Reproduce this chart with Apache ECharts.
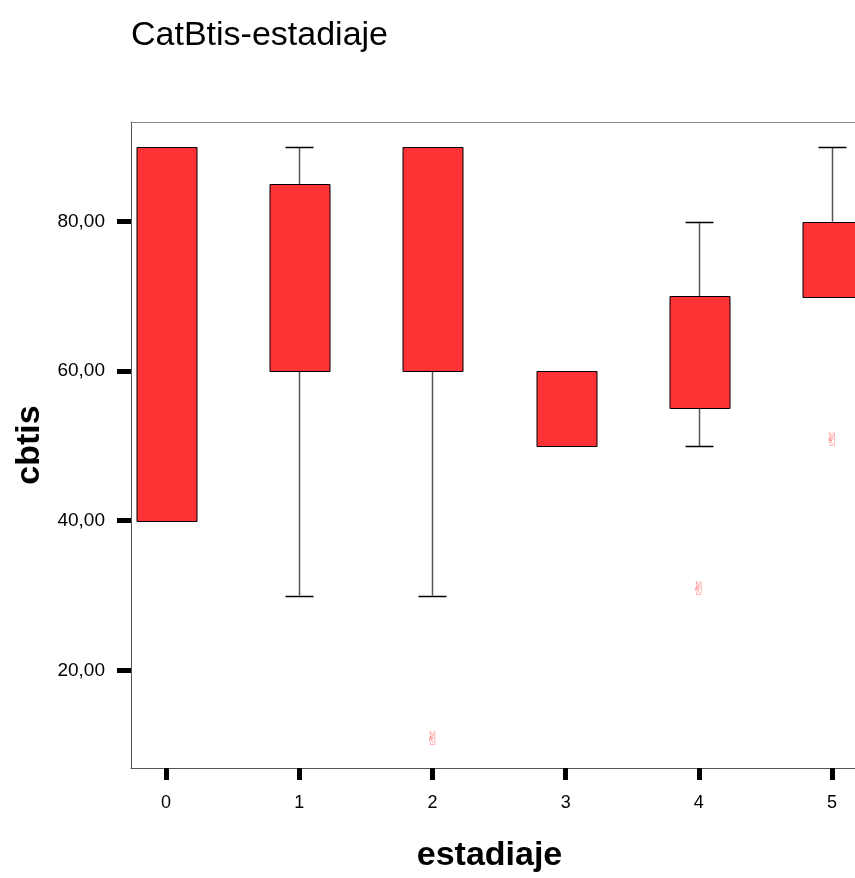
<!DOCTYPE html>
<html><head><meta charset="utf-8">
<script src="https://cdn.jsdelivr.net/npm/echarts@6/dist/echarts.min.js"></script>
<style>html,body{margin:0;padding:0;background:#fff}#c{width:855px;height:878px}</style>
</head><body><div id="c"></div>
<script>
const categories = [0, 1, 2, 3, 4, 5];
const whiskerLow  = [40, 30, 30, 50, 50, 70];
const q1          = [40, 60, 60, 50, 55, 70];
const q3          = [90, 85, 90, 60, 70, 80];
const whiskerHigh = [90, 90, 90, 60, 80, 90];
const outliers = [[2, 10], [4, 30], [5, 50]];
const yTicks = [20, 40, 60, 80];

const boxData = categories.map((c, i) => [c, whiskerLow[i], q1[i], q3[i], whiskerHigh[i]]);

const chart = echarts.init(document.getElementById('c'));
const FONT = 'Liberation Sans, Arial, sans-serif';
const XMIN = -0.263, XMAX = 5.172;
chart.setOption({
  animation: false,
  title: { text: 'CatBtis-estadiaje', left: 126, top: 14,
    textStyle: { fontFamily: FONT, fontSize: 34, fontWeight: 'normal', color: '#000' } },
  grid: { left: 131, top: 122, right: 0, bottom: 108, show: false },
  xAxis: [{
    type: 'value', min: XMIN, max: XMAX,
    name: 'estadiaje', nameLocation: 'middle', nameGap: 71,
    nameTextStyle: { fontFamily: FONT, fontSize: 34, fontWeight: 'bold', color: '#000', padding: [0, 7, 0, 0] },
    axisLine: { show: true, onZero: false, lineStyle: { color: '#555', width: 1 } },
    splitLine: { show: false },
    axisTick: { show: true, customValues: categories, length: 12, lineStyle: { color: '#000', width: 5 } },
    axisLabel: { customValues: categories, fontFamily: FONT, fontSize: 18, color: '#000', margin: 26,
      formatter: v => String(Math.round(v)) }
  }, {
    type: 'value', position: 'top', min: XMIN, max: XMAX,
    axisLine: { show: true, onZero: false, lineStyle: { color: '#888', width: 1 } },
    axisTick: { show: false }, axisLabel: { show: false }, splitLine: { show: false }
  }],
  yAxis: {
    type: 'value', min: 6.93, max: 93.33,
    name: 'cbtis', nameLocation: 'middle', nameGap: 84,
    nameTextStyle: { fontFamily: FONT, fontSize: 34, fontWeight: 'bold', color: '#000' },
    axisLine: { show: true, onZero: false, lineStyle: { color: '#555', width: 1 } },
    splitLine: { show: false },
    axisTick: { show: true, customValues: yTicks, length: 14, lineStyle: { color: '#000', width: 5 } },
    axisLabel: { customValues: yTicks, fontFamily: FONT, fontSize: 19, color: '#000', margin: 26,
      formatter: v => v.toFixed(2).replace('.', ',') }
  },
  series: [
    {
      type: 'custom',
      data: boxData,
      encode: { x: 0, y: [1, 2, 3, 4] },
      clip: true,
      renderItem: function (params, api) {
        const x = api.value(0);
        const lo = api.coord([x, api.value(1)]);
        const b1 = api.coord([x, api.value(2)]);
        const b3 = api.coord([x, api.value(3)]);
        const hi = api.coord([x, api.value(4)]);
        const bw = api.size([0.45, 0])[0];
        const cw = api.size([0.21, 0])[0];
        const cx = Math.round(lo[0]) + 0.5;
        const children = [];
        if (Math.abs(hi[1] - b3[1]) > 0.5) {
          children.push({ type: 'line', shape: { x1: cx, y1: hi[1], x2: cx, y2: b3[1] }, style: { stroke: '#555', lineWidth: 1.5 } });
          children.push({ type: 'line', shape: { x1: cx - cw / 2, y1: Math.round(hi[1]) + 0.5, x2: cx + cw / 2, y2: Math.round(hi[1]) + 0.5 }, style: { stroke: '#000', lineWidth: 1.5 } });
        }
        if (Math.abs(lo[1] - b1[1]) > 0.5) {
          children.push({ type: 'line', shape: { x1: cx, y1: b1[1], x2: cx, y2: lo[1] }, style: { stroke: '#555', lineWidth: 1.5 } });
          children.push({ type: 'line', shape: { x1: cx - cw / 2, y1: Math.round(lo[1]) + 0.5, x2: cx + cw / 2, y2: Math.round(lo[1]) + 0.5 }, style: { stroke: '#000', lineWidth: 1.5 } });
        }
        children.push({ type: 'rect',
          shape: { x: Math.round(cx - bw / 2), y: Math.round(b3[1]) + 0.5, width: Math.round(bw), height: Math.round(b1[1] - b3[1]) },
          style: { fill: '#ff3336', stroke: '#000', lineWidth: 1 } });
        return { type: 'group', children: children };
      },
      z: 3
    },
    {
      type: 'scatter',
      data: outliers,
      symbol: 'circle',
      symbolSize: 1,
      itemStyle: { color: 'rgba(0,0,0,0)' },
      label: { show: true, position: 'inside', offset: [0, -5], formatter: '\u270C',
        fontFamily: 'DejaVu Sans', fontSize: 18, color: '#ff5a5a' },
      z: 4
    }
  ]
});
</script></body></html>
